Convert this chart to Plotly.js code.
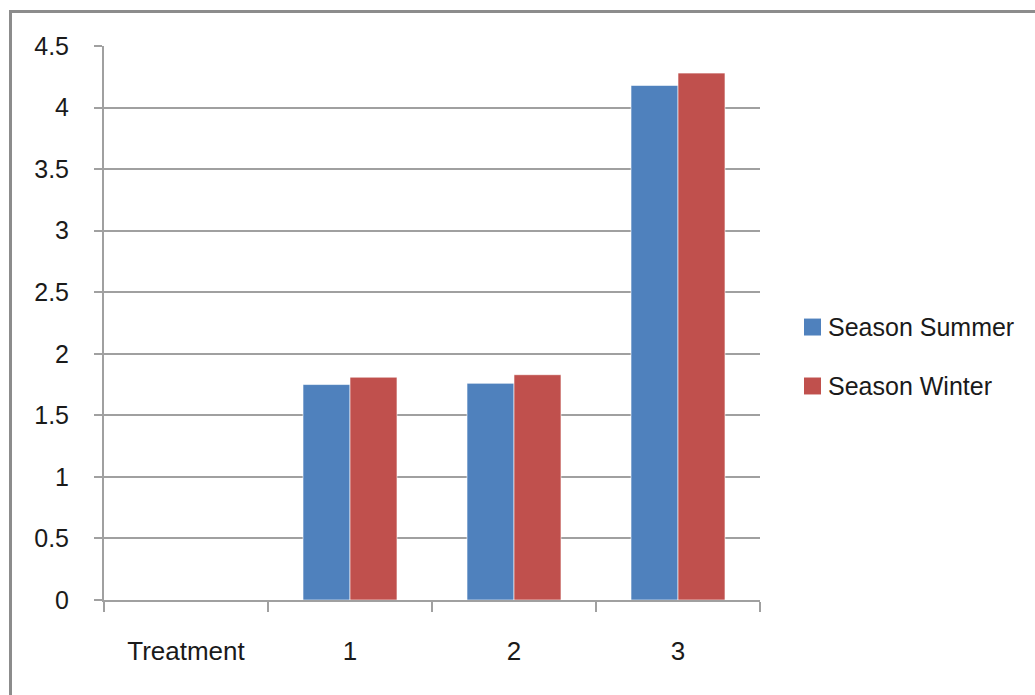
<!DOCTYPE html>
<html>
<head>
<meta charset="utf-8">
<script src="https://cdn.plot.ly/plotly-3.0.1.min.js"></script>
<style>
html,body{margin:0;padding:0;background:#fff;overflow:hidden;}
#frame{position:absolute;left:9px;top:10px;width:2000px;height:2000px;border:3px solid #8c8c8c;box-sizing:border-box;}
#chart{position:absolute;left:0;top:0;width:1035px;height:695px;}
</style>
</head>
<body>
<div id="frame"></div>
<div id="chart"></div>
<script>
const categories = ["Treatment", "1", "2", "3"];
const seriesNames = ["Season Summer", "Season Winter"];
const seriesColors = ["#4F81BD", "#C0504D"];
const summerValues = [null, 1.75, 1.76, 4.18];
const winterValues = [null, 1.81, 1.83, 4.28];
const yTickValues = [0, 0.5, 1, 1.5, 2, 2.5, 3, 3.5, 4, 4.5];
const yTickLabels = ["0", "0.5", "1", "1.5", "2", "2.5", "3", "3.5", "4", "4.5"];

const font = {family: "Liberation Sans, Arial, sans-serif", size: 25, color: "#1a1a1a"};

const traces = [
  {type: "bar", name: seriesNames[0], x: categories, y: summerValues, showlegend: false,
   marker: {color: seriesColors[0], line: {color: "rgba(255,255,255,0.6)", width: 1}}},
  {type: "bar", name: seriesNames[1], x: categories, y: winterValues, showlegend: false,
   marker: {color: seriesColors[1], line: {color: "rgba(255,255,255,0.6)", width: 1}}}
];

// custom legend (paper coordinates relative to plot area)
const legendRows = [0.4927, 0.3863];
const shapes = [];
const annotations = [];
seriesNames.forEach(function (name, i) {
  shapes.push({type: "rect", xref: "paper", yref: "paper",
    x0: 1.0671, x1: 1.0930, y0: legendRows[i] - 0.0153, y1: legendRows[i] + 0.0153,
    fillcolor: seriesColors[i], line: {width: 0}});
  annotations.push({xref: "paper", yref: "paper", x: 1.1007, y: legendRows[i],
    xanchor: "left", yanchor: "middle", text: name, showarrow: false, font: font});
});

const layout = {
  width: 1035, height: 695,
  margin: {l: 104, r: 275, t: 46, b: 95, pad: 0},
  paper_bgcolor: "rgba(0,0,0,0)",
  plot_bgcolor: "rgba(0,0,0,0)",
  font: font,
  barmode: "group",
  bargap: 0.427,
  bargroupgap: 0,
  showlegend: false,
  shapes: shapes,
  annotations: annotations,
  xaxis: {
    type: "category", categoryarray: categories, categoryorder: "array",
    showgrid: false, zeroline: false,
    showline: true, linecolor: "#a0a0a0", linewidth: 2,
    ticks: "outside", tickson: "boundaries", ticklen: 10, tickwidth: 2, tickcolor: "#a0a0a0",
    ticklabelstandoff: 27, tickfont: Object.assign({}, font, {size: 26})
  },
  yaxis: {
    range: [0, 4.5], tickvals: yTickValues, ticktext: yTickLabels,
    showgrid: true, gridcolor: "#a0a0a0", gridwidth: 2,
    zeroline: false, showline: true, linecolor: "#a0a0a0", linewidth: 2,
    ticks: "outside", ticklen: 8, tickwidth: 2, tickcolor: "#a0a0a0",
    ticklabelstandoff: 20, tickfont: font
  }
};

Plotly.newPlot("chart", traces, layout, {displayModeBar: false, staticPlot: true});
</script>
</body>
</html>
